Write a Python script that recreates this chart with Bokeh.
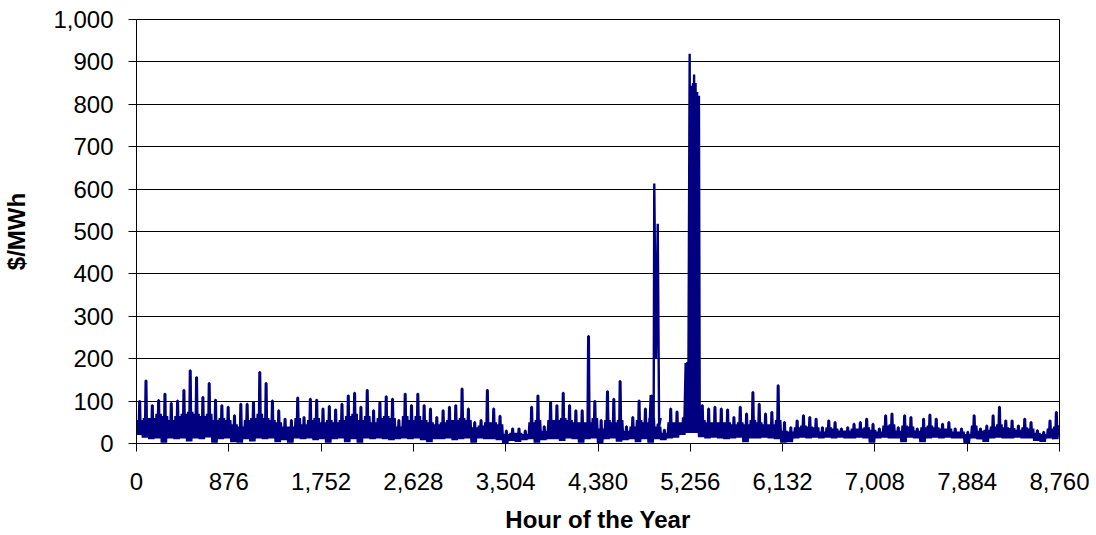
from bokeh.plotting import figure
from bokeh.models import Range1d, FixedTicker, NumeralTickFormatter
from bokeh.embed import file_html
from bokeh.resources import INLINE

# ---- data: hourly price series, read per 60-hour block ----
BLOCK_HOURS = 60
# highest price in each block
block_high = [
    100, 148, 90, 102, 117, 95, 101, 126, 172, 156, 109, 142, 103, 90, 86, 66, 93, 93, 97, 168, 142, 101, 78, 58,
    55, 108, 62, 105, 103, 82, 88, 80, 93, 113, 119, 86, 126, 78, 97, 111, 105, 55, 117, 90, 117, 90, 82, 62,
    78, 86, 90, 129, 82, 50, 55, 126, 82, 65, 30, 35, 35, 30, 86, 113, 40, 97, 90, 119, 90, 78, 78, 253, 100,
    55, 123, 105, 147, 40, 62, 101, 82, 113, 45, 32, 82, 75, 60, 60, 60, 90, 82, 86, 82, 80, 62, 86, 70, 121,
    93, 70, 74, 137, 50, 38, 54, 66, 62, 58, 38, 54, 50, 35, 38, 46, 50, 58, 46, 35, 66, 70, 38, 66,
    62, 35, 58, 68, 58, 46, 50, 35, 35, 27, 66, 35, 42, 66, 86, 54, 54, 42, 58, 50, 31, 27, 54, 74,
]
# typical daily-peak level in each block
block_mid = [
    55, 60, 60, 70, 65, 55, 65, 70, 75, 70, 65, 70, 55, 60, 55, 45, 40, 55, 60, 70, 60, 55, 50, 40,
    40, 60, 45, 55, 60, 50, 55, 50, 55, 65, 70, 55, 65, 50, 60, 65, 60, 40, 65, 55, 65, 55, 50, 45,
    50, 55, 55, 60, 55, 38, 42, 50, 50, 45, 22, 25, 25, 22, 50, 55, 30, 55, 55, 60, 55, 50, 50, 50, 60,
    35, 55, 50, 55, 30, 40, 55, 50, 60, 40, 25, 50, 50, 50, 50, 50, 55, 50, 50, 50, 50, 45, 50, 45, 55,
    50, 45, 45, 55, 30, 28, 38, 42, 40, 38, 28, 38, 35, 30, 30, 35, 35, 38, 32, 28, 42, 45, 30, 42,
    40, 30, 38, 42, 38, 35, 35, 28, 28, 22, 42, 30, 32, 40, 45, 38, 36, 32, 38, 35, 25, 22, 35, 40,
]
# lowest (night) price in each block
block_low = [
    20, 14, 10, 12, 2, 12, 10, 12, 5, 12, 10, 14, 2, 10, 12, 3, 2, 10, 5, 12, 10, 12, 3, 8,
    2, 12, 10, 12, 8, 10, 2, 10, 12, 3, 10, 2, 12, 10, 12, 10, 8, 10, 12, 10, 12, 8, 3, 10,
    10, 12, 8, 10, 12, 2, 12, 10, 10, 8, 1, 6, 4, 8, 10, 2, 8, 10, 10, 6, 12, 10, 2, 10, 12,
    1, 10, 12, 4, 8, 10, 3, 10, 2, 10, 8, 12, 14, 20, 25, 25, 15, 12, 14, 12, 10, 12, 14, 3, 12,
    12, 14, 12, 10, 2, 3, 12, 14, 12, 14, 12, 14, 12, 14, 12, 12, 14, 12, 2, 12, 14, 12, 12, 3,
    14, 12, 3, 12, 14, 12, 14, 12, 12, 1, 12, 10, 4, 12, 14, 12, 12, 14, 12, 12, 6, 4, 12, 10,
]
last_hour = 8760
last_price = 40

# detail of the price spikes (summer)
spike1_hours = [4870, 4880, 4890, 4900, 4908, 4914, 4930, 4947, 4960, 4975]
spike1_prices = [40, 114, 60, 110, 30, 613, 200, 518, 40, 60]
spike2_hours = [5200, 5212, 5218, 5228, 5236, 5250, 5258, 5268, 5276, 5282, 5288,
                5292, 5300, 5306, 5314, 5321, 5330, 5338, 5345, 5355]
spike2_prices = [50, 190, 30, 192, 25, 919, 30, 844, 25, 850, 30,
                 870, 25, 850, 30, 829, 25, 820, 86, 40]

x_ticks = [0, 876, 1752, 2628, 3504, 4380, 5256, 6132, 7008, 7884, 8760]
y_ticks = [0, 100, 200, 300, 400, 500, 600, 700, 800, 900, 1000]

x_title = "Hour of the Year"
y_title = "$/MWh"

# ---- build the hourly trace from the block readings ----
hours, prices = [], []
for i, (lo, mid, hi) in enumerate(zip(block_low, block_mid, block_high)):
    h0 = i * BLOCK_HOURS
    hours += [h0, h0 + 10, h0 + 20, h0 + 27, h0 + 33, h0 + 40, h0 + 50]
    prices += [lo, mid, lo, hi, hi, lo, mid]
hours.append(last_hour)
prices.append(last_price)

FONT = "Liberation Sans"
NAVY = "#000080"

p = figure(width=1096, height=535, output_backend="svg", toolbar_location=None,
           x_range=Range1d(0, 8760), y_range=Range1d(0, 1000),
           min_border_left=132, min_border_right=37, min_border_top=19, min_border_bottom=92)

p.line(hours, prices, line_color=NAVY, line_width=2.4)
p.line(spike1_hours, spike1_prices, line_color=NAVY, line_width=2.4)
p.line(spike2_hours, spike2_prices, line_color=NAVY, line_width=2.4)

p.background_fill_color = "white"
p.border_fill_color = "white"
p.outline_line_color = "black"
p.outline_line_width = 1

p.xgrid.visible = False
p.ygrid.grid_line_color = "black"
p.ygrid.grid_line_width = 1
p.ygrid.ticker = FixedTicker(ticks=y_ticks)

for ax in (p.xaxis[0], p.yaxis[0]):
    ax.axis_line_color = "black"
    ax.major_tick_line_color = "black"
    ax.minor_tick_line_color = None
    ax.major_tick_in = 0
    ax.major_tick_out = 8
    ax.major_label_text_font = FONT
    ax.major_label_text_font_size = "24px"
    ax.major_label_text_color = "black"
    ax.axis_label_text_font = FONT
    ax.axis_label_text_font_size = "24px"
    ax.axis_label_text_font_style = "bold"
    ax.axis_label_text_color = "black"
    ax.formatter = NumeralTickFormatter(format="0,0")

p.xaxis[0].ticker = FixedTicker(ticks=x_ticks)
p.yaxis[0].ticker = FixedTicker(ticks=y_ticks)
p.xaxis[0].axis_label = x_title
p.yaxis[0].axis_label = y_title
p.xaxis[0].major_label_standoff = 21
p.yaxis[0].major_label_standoff = 15
p.xaxis[0].axis_label_standoff = 13
p.yaxis[0].axis_label_standoff = 20

open("out.html", "w").write(file_html(p, INLINE))
